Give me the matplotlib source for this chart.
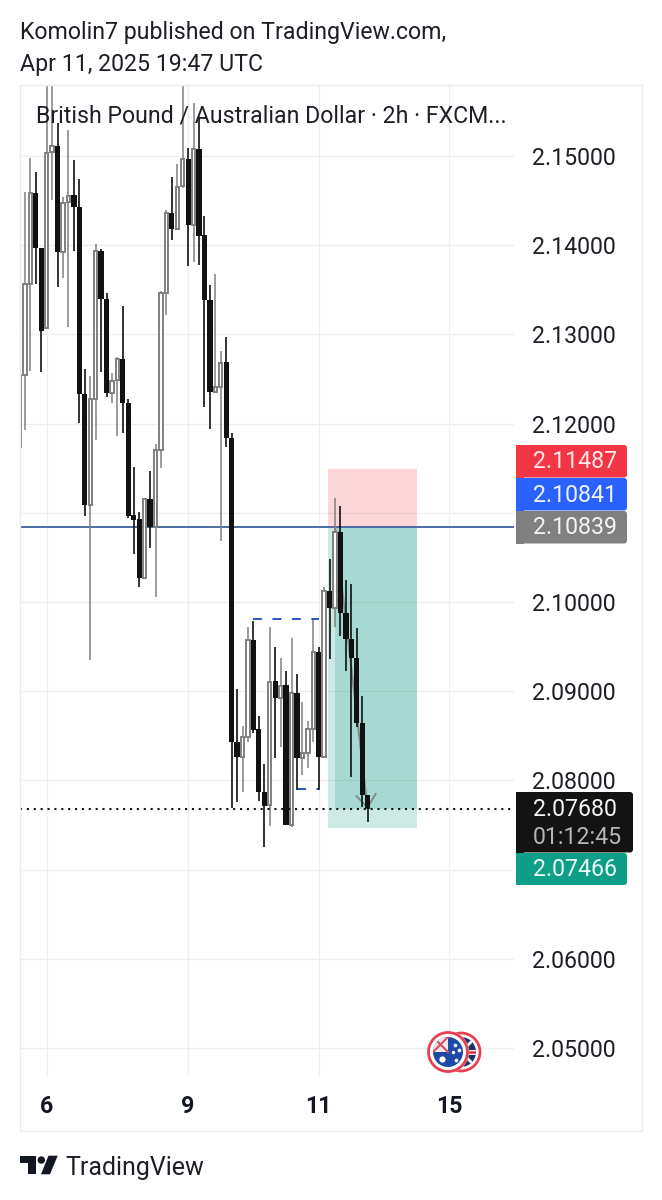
import matplotlib
matplotlib.use('Agg')
from matplotlib import pyplot as plt
from matplotlib.patches import Rectangle, FancyBboxPatch, Circle, Polygon
import numpy as np

plt.rcParams['font.family'] = ['Roboto', 'DejaVu Sans']

# GBPAUD 2h bars
opens = [2.11738, 2.12545, 2.13565, 2.14585, 2.13969, 2.13072, 2.15045, 2.15112, 2.13924, 2.14484,
         2.14563, 2.14428, 2.12332, 2.11087, 2.12276, 2.13935, 2.13397, 2.12343, 2.12489, 2.12724,
         2.12231, 2.10975, 2.1093, 2.10269, 2.11155, 2.10841, 2.11704, 2.13464, 2.14361, 2.14182,
         2.14664, 2.14966, 2.14226, 2.15078, 2.14114, 2.13386, 2.12354, 2.1241, 2.12691, 2.11838,
         2.0843, 2.08262, 2.08486, 2.09574, 2.08576, 2.0787, 2.07724, 2.09114, 2.08924, 2.09069,
         2.075, 2.0898, 2.08251, 2.08307, 2.08576, 2.09439, 2.08262, 2.10123, 2.09933, 2.10785,
         2.09877, 2.09585, 2.09372, 2.08643, 2.07836]
highs = [2.14753, 2.14596, 2.14978, 2.14821, 2.13969, 2.15785, 2.15785, 2.1537, 2.1454, 2.15291,
         2.14955, 2.14742, 2.12612, 2.12534, 2.14013, 2.13957, 2.13464, 2.12567, 2.12747, 2.13318,
         2.12276, 2.11513, 2.11009, 2.11166, 2.11469, 2.11771, 2.13487, 2.14395, 2.14765, 2.1491,
         2.15785, 2.1509, 2.15594, 2.15437, 2.14327, 2.13554, 2.13677, 2.12814, 2.12971, 2.11895,
         2.09025, 2.0861, 2.0972, 2.09787, 2.08722, 2.08184, 2.0972, 2.09495, 2.09372, 2.09226,
         2.09596, 2.09193, 2.08879, 2.08666, 2.09798, 2.09495, 2.10168, 2.10482, 2.11166, 2.11076,
         2.10247, 2.10202, 2.09708, 2.08946, 2.07836]
lows = [2.11457, 2.11928, 2.1259, 2.13565, 2.12579, 2.13072, 2.14507, 2.13531, 2.13632, 2.13083,
        2.13935, 2.12007, 2.10964, 2.0935, 2.11816, 2.12578, 2.12298, 2.12231, 2.11861, 2.11895,
        2.10942, 2.10538, 2.10168, 2.10269, 2.10605, 2.10056, 2.11502, 2.13217, 2.14058, 2.14182,
        2.14641, 2.13767, 2.13812, 2.13778, 2.12186, 2.11939, 2.12354, 2.10684, 2.11738, 2.0769,
        2.07758, 2.0787, 2.0843, 2.08531, 2.07769, 2.07253, 2.07489, 2.08251, 2.08374, 2.075,
        2.07477, 2.07892, 2.0806, 2.08139, 2.0843, 2.07892, 2.08262, 2.09361, 2.0972, 2.09619,
        2.09226, 2.08038, 2.08599, 2.07702, 2.07533]
closes = [2.12545, 2.13565, 2.14585, 2.13969, 2.13038, 2.15034, 2.15112, 2.13924, 2.14473, 2.14552,
          2.14428, 2.12332, 2.11087, 2.12276, 2.13935, 2.13397, 2.12343, 2.12478, 2.12724, 2.12231,
          2.10964, 2.10919, 2.10269, 2.11155, 2.10841, 2.11704, 2.13464, 2.14361, 2.14182, 2.14652,
          2.14966, 2.14226, 2.15078, 2.14103, 2.13386, 2.12354, 2.1241, 2.12679, 2.11838, 2.0843,
          2.08262, 2.08486, 2.09574, 2.08565, 2.0787, 2.07713, 2.09103, 2.08924, 2.09058, 2.075,
          2.0898, 2.08251, 2.08307, 2.08576, 2.09439, 2.08262, 2.10123, 2.09933, 2.10785, 2.09877,
          2.09585, 2.09372, 2.08643, 2.07836, 2.0768]

price_ticks = [2.05, 2.06, 2.07, 2.08, 2.09, 2.10, 2.11, 2.12, 2.13, 2.14, 2.15]
price_labels = ['2.05000', '2.06000', '', '2.08000', '2.09000', '2.10000', '', '2.12000', '2.13000', '2.14000', '2.15000']
date_ticks = [5, 31, 55, 79]
date_labels = ['6', '9', '11', '15']

last_price = 2.07680
line_price = 2.10839
stop_price = 2.11487
entry_price = 2.10841
target_price = 2.07466
box_bars = [56.76, 73.0]
entry_bar = 58
upper_range = [43, 55, 2.0981]
lower_range = [51, 55, 2.0790]

FS = 16.65
W, H = 662, 1200
fig = plt.figure(figsize=(W / 100, H / 100), dpi=100, facecolor='white')
ax = fig.add_axes([20 / W, 1 - 1077 / H, 494 / W, 992 / H])
ax.set_xlim(0.09, 90.9)
ax.set_ylim(2.04675, 2.15796)
for s in ax.spines.values():
    s.set_visible(False)

ax.set_yticks(price_ticks)
ax.set_yticklabels(price_labels)
ax.set_xticks(date_ticks)
ax.set_xticklabels(date_labels, fontweight='semibold')
ax.yaxis.tick_right()
ax.tick_params(axis='y', length=0, pad=12.7, labelsize=FS, labelcolor='#1c1f26')
ax.tick_params(axis='x', length=0, pad=13, labelsize=FS, labelcolor='#131722')
ax.grid(True, color='#eeeeee', lw=0.9)
ax.set_axisbelow(True)

# position box
ax.add_patch(Rectangle((box_bars[0], entry_price), box_bars[1] - box_bars[0], stop_price - entry_price,
                       fc='#F23645', alpha=0.2, lw=0, zorder=1))
ax.add_patch(Rectangle((box_bars[0], target_price), box_bars[1] - box_bars[0], entry_price - target_price,
                       fc='#089981', alpha=0.2, lw=0, zorder=1))
ax.add_patch(Rectangle((entry_bar, last_price), box_bars[1] - entry_bar, entry_price - last_price,
                       fc='#089981', alpha=0.2, lw=0, zorder=1))

ax.axhline(line_price, color='#3f6299', lw=1.3, zorder=1.5)
ax.annotate('', xy=(64, last_price), xytext=(entry_bar, entry_price), zorder=2,
            arrowprops=dict(arrowstyle='->,head_length=0.9,head_width=0.7', color='#7f8a88', lw=1.4,
                            shrinkA=0, shrinkB=0))

for r in (upper_range, lower_range):
    ax.plot(r[:2], [r[2], r[2]], color='#2a55c0', lw=1.4, dashes=(4.6, 5.4), zorder=2)

# candles
opens, highs, lows, closes = map(np.array, (opens, highs, lows, closes))
idx = np.arange(len(opens))
up = closes >= opens
ax.vlines(idx[up], lows[up], highs[up], color='#808080', lw=1.1, zorder=3)
ax.bar(idx[up], (closes - opens)[up], bottom=opens[up], width=0.62, facecolor='white',
       edgecolor='#808080', lw=1.4, zorder=3.2)
ax.vlines(idx[~up], lows[~up], highs[~up], color='#111111', lw=1.2, zorder=3.4)
ax.bar(idx[~up], (opens - closes)[~up], bottom=closes[~up], width=0.96, color='#111111', lw=0, zorder=3.5)

ax.axhline(last_price, color='#111111', lw=1.5, ls=(0, (1, 2.3)), zorder=4)

# overlay in pixel coordinates for the TradingView furniture
ov = fig.add_axes([0, 0, 1, 1], facecolor='none')
ov.set_xlim(0, W)
ov.set_ylim(H, 0)
ov.axis('off')

ov.add_patch(Rectangle((20, 85), 622, 1046, fc='none', ec='#ececec', lw=1.0))
ov.text(20, 32, 'Komolin7 published on TradingView.com,', fontsize=FS, color='#1c1f26', va='center')
ov.text(20, 64, 'Apr 11, 2025 19:47 UTC', fontsize=FS, color='#1c1f26', va='center')
ov.text(36, 116, 'British Pound / Australian Dollar · 2h · FXCM...', fontsize=FS, color='#1c1f26', va='center')


def tag(y0, y1, right, color):
    ov.add_patch(FancyBboxPatch((519, y0 + 3), right - 519 - 3, y1 - y0 - 6, boxstyle='round,pad=3',
                                fc=color, ec='none', zorder=5))
    ov.add_patch(Rectangle((516, y0), 8, y1 - y0, fc=color, ec='none', zorder=5))


tag(445, 477.5, 627, '#F23645')
tag(478, 510.5, 627, '#2962FF')
tag(511, 543.5, 627, '#808080')
tag(853, 885, 627, '#0f9f87')
tag(792, 852.5, 633, '#131313')
for y, txt, col in [(462, '2.11487', '#ffe9ea'), (495, '2.10841', '#eef3ff'), (528, '2.10839', '#f4f4f4'),
                    (810, '2.07680', '#f4f4f4'), (838, '01:12:45', '#b5b5b5'), (870, '2.07466', '#e9fbf7')]:
    ov.text(533, y, txt, fontsize=FS, color=col, va='center', zorder=6)

# currency coins
back = Circle((461, 1052), 15, fc='#20306e', ec='none', zorder=5)
ov.add_patch(back)
for x0, y0, x1, y1, c, lw in [(446, 1052, 476, 1052, 'white', 3.5), (461, 1037, 461, 1067, 'white', 3.5),
                              (450, 1041, 472, 1063, 'white', 2.0), (450, 1063, 472, 1041, 'white', 2.0),
                              (446, 1052, 476, 1052, '#d9303f', 1.8), (461, 1037, 461, 1067, '#d9303f', 1.8)]:
    ln, = ov.plot([x0, x1], [y0, y1], color=c, lw=lw, zorder=5.1, solid_capstyle='butt')
    ln.set_clip_path(back)
ov.add_patch(Circle((461, 1052), 19, fc='none', ec='#e8404f', lw=2.0, zorder=5.2))
ov.add_patch(Circle((448, 1052), 21, fc='white', ec='none', zorder=5.3))
ov.add_patch(Circle((448, 1052), 19.5, fc='none', ec='#e8404f', lw=2.0, zorder=5.4))
flag = Circle((448, 1052), 15, fc='#1c4aa6', ec='none', zorder=5.4)
ov.add_patch(flag)
corner = Rectangle((433, 1037), 15, 15, fc='#f2e9ec', ec='none', zorder=5.5)
ov.add_patch(corner)
corner.set_clip_path(flag)
for x0, y0, x1, y1 in [(433, 1037, 448, 1052), (433, 1052, 448, 1037)]:
    ln, = ov.plot([x0, x1], [y0, y1], color='#d9505f', lw=1.5, zorder=5.6)
    ln.set_clip_path(flag)
for sx, sy, ss in [(442, 1059, 20), (455, 1045, 7), (459, 1050, 7), (453, 1052, 6), (456, 1060, 7)]:
    ov.scatter([sx], [sy], s=ss, color='white', lw=0, zorder=5.7)

# TradingView logo
ov.add_patch(Polygon([(20, 1155.7), (35.7, 1155.7), (35.7, 1174.3), (28, 1174.3), (28, 1162.7), (20, 1162.7)],
                     fc='#131722', ec='none'))
ov.add_patch(Circle((41.3, 1160), 3.7, fc='#131722', ec='none'))
ov.add_patch(Polygon([(48.5, 1155.7), (57.7, 1155.7), (50, 1174.3), (41, 1174.3)], fc='#131722', ec='none'))
ov.text(65, 1168, 'TradingView', fontsize=18, color='#1c1f26', va='center')

fig.savefig('out.png', dpi=100, facecolor='white')
